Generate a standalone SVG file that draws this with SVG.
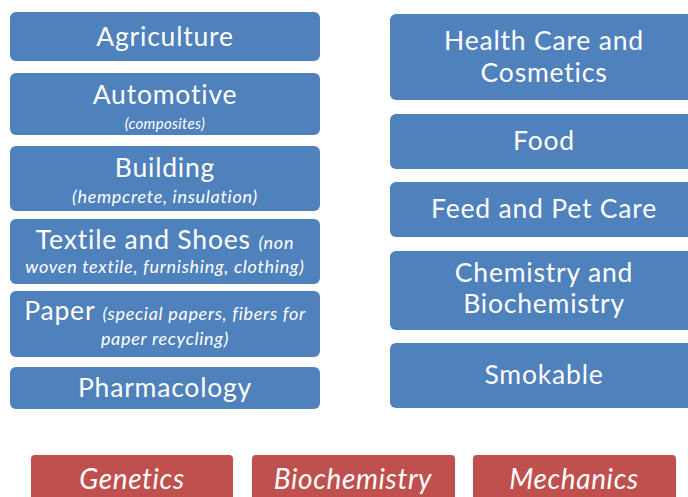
<svg xmlns="http://www.w3.org/2000/svg" width="688" height="497" viewBox="0 0 688 497">
  <style>
    .app { fill: #4F81BD; }
    .base { fill: #C0504D; }
    text { fill: #FFFFFF; font-family: Lato, "Open Sans", "Liberation Sans", sans-serif; text-anchor: middle; }
    .t { font-size: 26.5px; letter-spacing: 0.8px; }
    .s { font-size: 18px; font-style: italic; letter-spacing: 0.7px; }
    .xs { font-size: 15px; font-style: italic; letter-spacing: 0.3px; }
    .b { font-size: 28px; font-style: italic; letter-spacing: 0.6px; }
  </style>
  <rect width="688" height="497" fill="#FFFFFF"/>

  <!-- left column: applications -->
  <g id="agriculture">
    <rect class="app" x="10" y="12" width="310" height="49" rx="6"/>
    <text class="t" x="165" y="46">Agriculture</text>
  </g>
  <g id="automotive">
    <rect class="app" x="10" y="73" width="310" height="62" rx="6"/>
    <text class="t" x="165" y="104">Automotive</text>
    <text class="xs" x="165" y="129">(composites)</text>
  </g>
  <g id="building">
    <rect class="app" x="10" y="146" width="310" height="65" rx="6"/>
    <text class="t" x="165" y="177">Building</text>
    <text class="s" x="165" y="203">(hempcrete, insulation)</text>
  </g>
  <g id="textile">
    <rect class="app" x="10" y="219" width="310" height="65" rx="6"/>
    <text x="165" y="249"><tspan class="t">Textile and Shoes </tspan><tspan class="s">(non</tspan></text>
    <text class="s" x="165" y="273">woven textile, furnishing, clothing)</text>
  </g>
  <g id="paper">
    <rect class="app" x="10" y="291" width="310" height="66" rx="6"/>
    <text x="165" y="320"><tspan class="t">Paper </tspan><tspan class="s">(special papers, fibers for</tspan></text>
    <text class="s" x="165" y="345">paper recycling)</text>
  </g>
  <g id="pharmacology">
    <rect class="app" x="10" y="367" width="310" height="42" rx="6"/>
    <text class="t" x="165" y="397">Pharmacology</text>
  </g>

  <!-- right column: applications -->
  <g id="health-care">
    <rect class="app" x="390" y="14" width="310" height="86" rx="6"/>
    <text class="t" x="544" y="50">Health Care and</text>
    <text class="t" x="544" y="82">Cosmetics</text>
  </g>
  <g id="food">
    <rect class="app" x="390" y="114" width="310" height="55" rx="6"/>
    <text class="t" x="544" y="150">Food</text>
  </g>
  <g id="feed">
    <rect class="app" x="390" y="182" width="310" height="55" rx="6"/>
    <text class="t" x="544" y="218">Feed and Pet Care</text>
  </g>
  <g id="chemistry">
    <rect class="app" x="390" y="251" width="310" height="79" rx="6"/>
    <text class="t" x="544" y="282">Chemistry and</text>
    <text class="t" x="544" y="313">Biochemistry</text>
  </g>
  <g id="smokable">
    <rect class="app" x="390" y="343" width="310" height="65" rx="6"/>
    <text class="t" x="544" y="384">Smokable</text>
  </g>

  <!-- bottom row: disciplines -->
  <g id="genetics">
    <rect class="base" x="31" y="455" width="202" height="52" rx="4"/>
    <text class="b" x="132" y="489">Genetics</text>
  </g>
  <g id="biochemistry">
    <rect class="base" x="252" y="455" width="203" height="52" rx="4"/>
    <text class="b" x="353" y="489">Biochemistry</text>
  </g>
  <g id="mechanics">
    <rect class="base" x="473" y="455" width="203" height="52" rx="4"/>
    <text class="b" x="574" y="489">Mechanics</text>
  </g>

  <g id="connectors"/>
</svg>
